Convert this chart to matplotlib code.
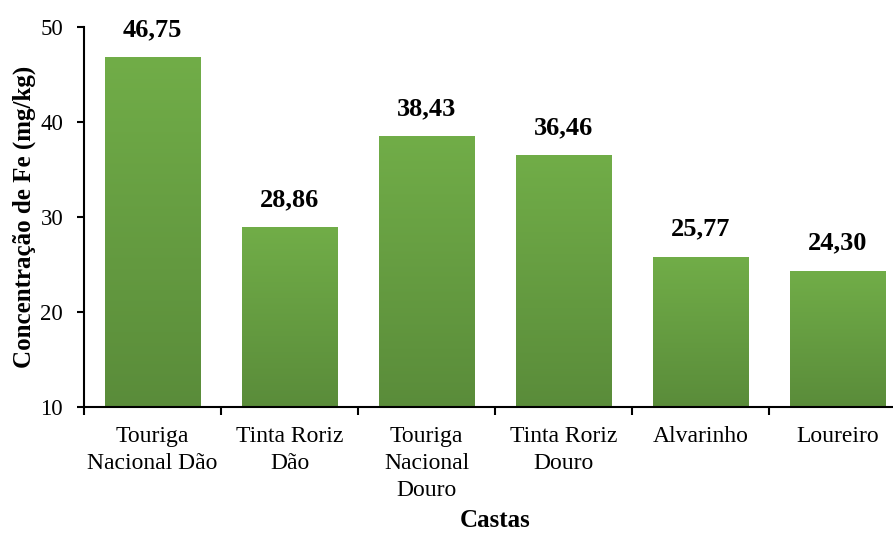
import matplotlib
matplotlib.use('Agg')
import matplotlib.pyplot as plt
import numpy as np
from matplotlib.colors import LinearSegmentedColormap

castas = ['Touriga\nNacional Dão', 'Tinta Roriz\nDão', 'Touriga\nNacional\nDouro',
          'Tinta Roriz\nDouro', 'Alvarinho', 'Loureiro']
fe = [46.75, 28.86, 38.43, 36.46, 25.77, 24.30]
yticks = [10, 20, 30, 40, 50]

plt.rcParams['font.family'] = ['Liberation Serif', 'DejaVu Serif']

fig = plt.figure(figsize=(8.93, 5.33), dpi=100)
ax = fig.add_axes([84/893, 1 - 407/533, 822/893, 380/533])

x = np.arange(len(castas))
width = 0.7
ymin = 10

# green gradient, lighter at top
cmap = LinearSegmentedColormap.from_list('g', ['#5a8c3a', '#71ad48'])
grad = np.linspace(0, 1, 256).reshape(-1, 1)

bars = ax.bar(x, np.array(fe) - ymin, width, bottom=ymin, color='none', edgecolor='none')
for rect, v in zip(bars, fe):
    x0 = rect.get_x()
    ax.imshow(grad, cmap=cmap, origin='lower', aspect='auto',
              extent=(x0, x0 + width, ymin, v), zorder=2)
    ax.annotate('{:.2f}'.format(v).replace('.', ','),
                xy=(rect.get_x() + width / 2, v), xytext=(0, 12),
                textcoords='offset points', ha='center', va='bottom',
                fontsize=19, fontweight='bold')

ax.set_xlim(-0.5, len(castas) - 0.5)
ax.set_ylim(10, 50)
ax.set_yticks(yticks)
ax.tick_params(axis='y', labelsize=16.5, length=5, width=1.5, direction='out', pad=10)
ax.set_xticks(x)
ax.set_xticklabels(castas, fontsize=17, linespacing=1.35)
ax.set_xticks(np.arange(-0.5, len(castas), 1), minor=True)
ax.tick_params(axis='x', which='major', length=0, pad=14)
ax.tick_params(axis='x', which='minor', length=6, width=1.5, direction='out')

for s in ['top', 'right']:
    ax.spines[s].set_visible(False)
for s in ['left', 'bottom']:
    ax.spines[s].set_linewidth(1.5)

ax.set_ylabel('Concentração de Fe (mg/kg)', fontsize=18, fontweight='bold', labelpad=3)
ax.set_xlabel('Castas', fontsize=18, fontweight='bold', labelpad=6)

plt.savefig('out.png', dpi=100)
